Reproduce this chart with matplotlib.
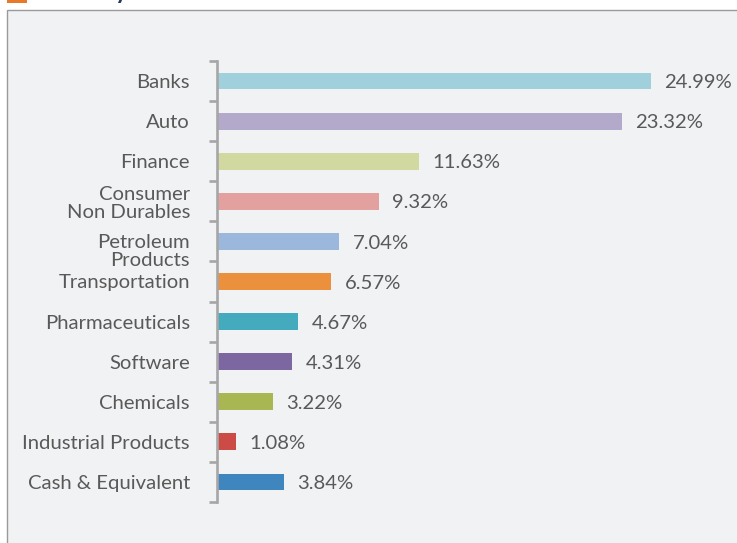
import matplotlib
matplotlib.use("Agg")
import matplotlib.pyplot as plt
from matplotlib.patches import Rectangle
from matplotlib.transforms import ScaledTranslation

# Portfolio industry allocation (% of net assets)
categories = [
    "Banks", "Auto", "Finance", "Consumer\nNon Durables", "Petroleum\nProducts",
    "Transportation", "Pharmaceuticals", "Software", "Chemicals",
    "Industrial Products", "Cash & Equivalent",
]
weights = [24.99, 23.32, 11.63, 9.32, 7.04, 6.57, 4.67, 4.31, 3.22, 1.08, 3.84]
bar_colors = [
    "#9fd0dc", "#b2a9cb", "#d1d9a0", "#e2a09f", "#9bb8dc", "#eb903d",
    "#44abbf", "#7d67a0", "#a8b752", "#cc4b47", "#3f86be",
]
title = "Industry Allocation"

W, H, DPI = 737, 543, 100
plt.rcParams["font.family"] = ["Lato", "DejaVu Sans"]
text_color = "#595959"
axis_gray = "#a6a6a6"
fs = 14.6

fig = plt.figure(figsize=(W / DPI, H / DPI), dpi=DPI, facecolor="white")

# panel frame with a light fill
fig.patches.append(Rectangle((7 / W, -0.1), 1.0, 1.1 - 10 / H,
                             transform=fig.transFigure, facecolor="#f1f2f4",
                             edgecolor="#9a9a9a", linewidth=1.0, zorder=-2))
# section header marker and title
fig.patches.append(Rectangle((7 / W, 1 - 3 / H), 20 / W, 3 / H,
                             transform=fig.transFigure, facecolor="#e8792a",
                             edgecolor="none", zorder=-1))
fig.text(40 / W, 1 + 1 / H, title, fontsize=17, fontweight="bold",
         color="#1f3864", ha="left", va="baseline")

left, right, top, bottom = 217, 736, 61, 502
ax = fig.add_axes([left / W, 1 - bottom / H, (right - left) / W, (bottom - top) / H])
ax.set_zorder(1)
ax.patch.set_visible(False)

pos = list(range(len(categories)))
ax.barh(pos, weights, height=0.42, color=bar_colors, zorder=2)
ax.set_xlim(0, (right - left) / 17.35)
ax.set_ylim(len(categories) - 0.5, -0.5)

for i, v in zip(pos, weights):
    ax.annotate(f"{v:.2f}%", xy=(v, i), xytext=(9.8, -1.2), textcoords="offset points",
                va="center", ha="left", fontsize=fs, color=text_color,
                annotation_clip=False)

for side in ("top", "right", "bottom"):
    ax.spines[side].set_visible(False)
ax.spines["left"].set_color(axis_gray)
ax.spines["left"].set_linewidth(1.9)
ax.set_xticks([])

# boundary ticks between categories, labels on minor ticks at bar centres
ax.set_yticks([p - 0.5 for p in pos] + [len(pos) - 0.5])
ax.set_yticklabels([])
ax.tick_params(axis="y", which="major", length=5.8, width=1.9, color=axis_gray,
               direction="out")
ax.set_yticks(pos, minor=True)
ax.set_yticklabels(categories, minor=True)
ax.tick_params(axis="y", which="minor", length=0, pad=19.5, labelsize=fs,
               labelcolor=text_color)
for lab in ax.get_yticklabels(minor=True):
    lab.set_linespacing(1.08)
    lab.set_multialignment("right")
    if lab.get_text().startswith("Petroleum"):
        lab.set_transform(lab.get_transform() +
                          ScaledTranslation(0, -8 / DPI, fig.dpi_scale_trans))

fig.savefig("out.png", dpi=DPI, facecolor="white")
